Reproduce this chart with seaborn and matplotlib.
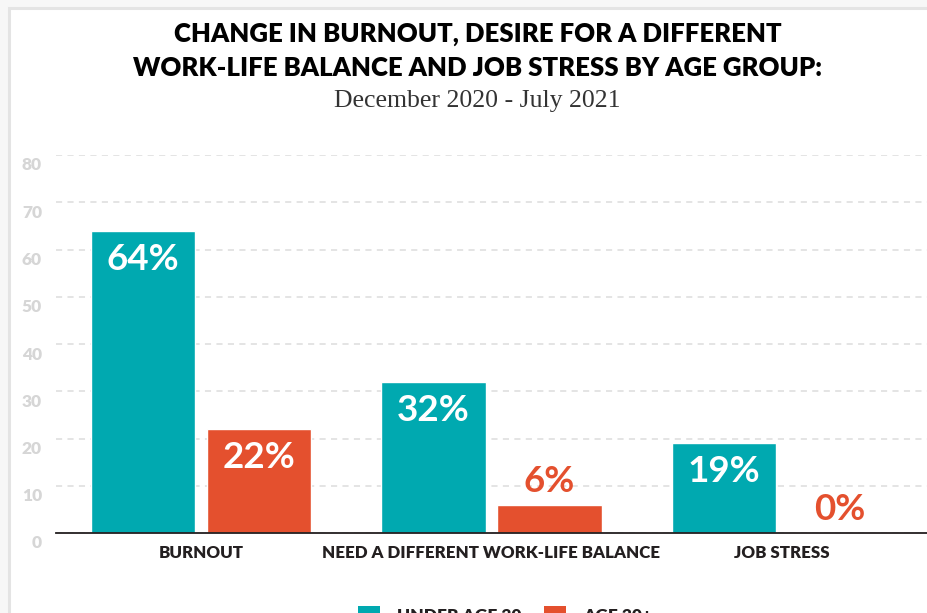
import matplotlib
matplotlib.use("Agg")
import matplotlib.pyplot as plt
import matplotlib.transforms as mtransforms
from matplotlib.patches import Rectangle, Patch
import pandas as pd
import seaborn as sns

# Survey results, percent of respondents
categories = ["BURNOUT", "NEED A DIFFERENT WORK-LIFE BALANCE", "JOB STRESS"]
groups = ["UNDER AGE 30", "AGE 30+"]
under_30 = [64, 32, 19]
age_30_plus = [22, 6, 0]
y_ticks = [0, 10, 20, 30, 40, 50, 60, 70, 80]

title_lines = "CHANGE IN BURNOUT, DESIRE FOR A DIFFERENT\nWORK-LIFE BALANCE AND JOB STRESS BY AGE GROUP:"
subtitle = "December 2020 - July 2021"

TEAL = "#00a9b0"
ORANGE = "#e4502e"
DARK = "#231f20"
GRID = "#dcdcdc"
TICK_GREY = "#d6d6d6"

df = pd.DataFrame({
    "category": categories * 2,
    "group": [groups[0]] * len(categories) + [groups[1]] * len(categories),
    "value": under_30 + age_30_plus,
})

sns.set_theme(style="white")
plt.rcParams["font.family"] = ["Lato", "DejaVu Sans"]

W, H = 927, 613
fig = plt.figure(figsize=(W / 100, H / 100), dpi=100, facecolor="#f7f7f7")

# white card with a thin grey border, kept behind the axes
card = Rectangle((9 / W, -0.1), 1.2, (H - 8) / H + 0.1,
                 transform=fig.transFigure, facecolor="white",
                 edgecolor="#e4e4e4", linewidth=2.2, zorder=-10)
fig.patches.append(card)

ax = fig.add_axes([56 / W, (H - 533) / H, (W - 56) / W, (533 - 155) / H])
ax.set_facecolor("none")
ax.set_zorder(1)

sns.barplot(data=df, x="category", y="value", hue="group", order=categories,
            hue_order=groups, palette=[TEAL, ORANGE], width=0.8, gap=0.1,
            saturation=1, ax=ax, legend=False, zorder=3)

ax.set_xlim(-0.5, 2.5)
ax.set_ylim(0, 80)
ax.set_yticks(y_ticks)
ax.set_xlabel("")
ax.set_ylabel("")

ax.yaxis.grid(True, color=GRID, linewidth=1.1, linestyle=(0, (4, 3.5)), zorder=0)
ax.xaxis.grid(False)
ax.set_axisbelow(True)
for side in ["left", "right", "top"]:
    ax.spines[side].set_visible(False)
ax.spines["bottom"].set_color(DARK)
ax.spines["bottom"].set_linewidth(1.3)
ax.spines["bottom"].set_zorder(4)

ax.tick_params(axis="x", length=0, pad=9, labelsize=12.2, labelcolor=DARK)
ax.tick_params(axis="y", length=0, pad=10, labelsize=12.5, labelcolor=TICK_GREY)
for lab in ax.get_xticklabels():
    lab.set_fontweight("heavy")
shift = mtransforms.ScaledTranslation(0, -9 / 100, fig.dpi_scale_trans)
for lab in ax.get_yticklabels():
    lab.set_fontweight("heavy")
    lab.set_transform(lab.get_transform() + shift)

# value labels: white inside tall bars, coloured above short ones
for container, values, color in zip(ax.containers, [under_30, age_30_plus], [TEAL, ORANGE]):
    for bar, v in zip(container, values):
        cx = bar.get_x() + bar.get_width() / 2
        if v >= 15:
            ax.annotate(f"{v}%", (cx, v), xytext=(0, -12), textcoords="offset pixels",
                        ha="center", va="top", color="white", fontsize=26.5,
                        fontweight="bold", zorder=5)
        else:
            ax.annotate(f"{v}%", (cx, v), xytext=(0, 13), textcoords="offset pixels",
                        ha="center", va="baseline", color=color, fontsize=26.5,
                        fontweight="bold", zorder=5)

cx_fig = 477.5 / W
fig.text(cx_fig, 1 - 51 / H, title_lines, ha="center", va="center",
         fontsize=18.5, fontweight="heavy", color="black", linespacing=1.45)
fig.text(cx_fig, 1 - 101 / H, subtitle, ha="center", va="center",
         fontsize=18.5, family="Liberation Serif", color="#333333")

handles = [Patch(facecolor=TEAL, edgecolor="none"), Patch(facecolor=ORANGE, edgecolor="none")]
leg = fig.legend(handles, groups, loc="upper left", bbox_to_anchor=(358 / W, 1 - 606 / H),
                 ncol=2, frameon=False, fontsize=12.5, handlelength=1.27,
                 handleheight=1.27, handletextpad=1.0, columnspacing=1.25,
                 borderpad=0, borderaxespad=0)
for t in leg.get_texts():
    t.set_fontweight("heavy")
    t.set_color(DARK)

fig.savefig("out.png", dpi=100, facecolor=fig.get_facecolor())
